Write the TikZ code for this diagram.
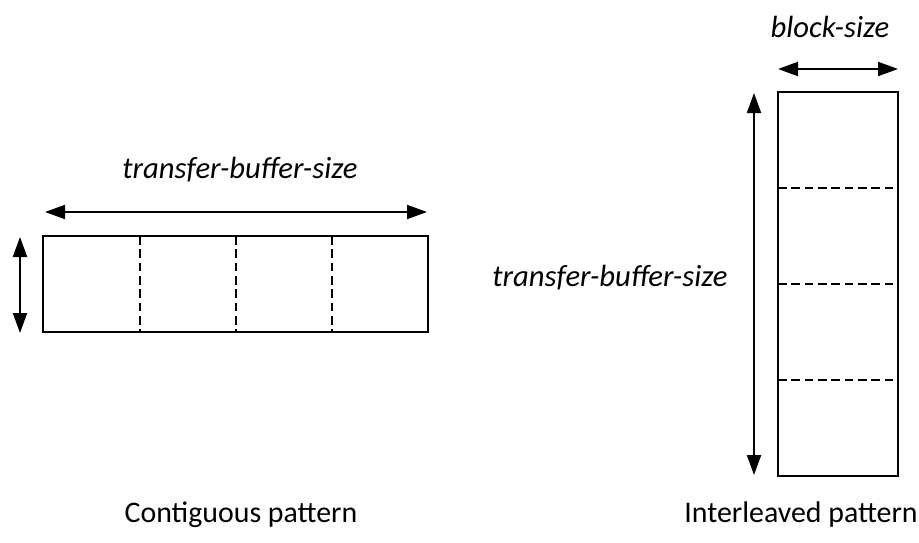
\documentclass[tikz,border=0pt]{standalone}
\usepackage{fontspec}
\setmainfont{Carlito}
\usetikzlibrary{arrows.meta,positioning}

\begin{document}
\begin{tikzpicture}[x=0.75pt,y=-0.75pt,
    dim/.style={{Triangle[length=15pt,width=10.5pt]}-{Triangle[length=15pt,width=10.5pt]}, line width=1.5pt},
    box/.style={line width=1.4pt},
    cell/.style={dash pattern=on 6.5pt off 3.5pt, line width=1.4pt},
    lbl/.style={font=\fontsize{23}{27}\selectfont\itshape},
    captext/.style={font=\fontsize{22.4}{26}\selectfont}]
    \useasboundingbox (0,0) rectangle (919,542);

    % Pola bersebelahan (contiguous)
    \draw[box] (43,236) rectangle (428,332);
    \foreach \x in {140,236,332}
        \draw[cell] (\x,236) -- (\x,332);
    \coordinate (cwl) at (45,212);
    \coordinate (cwr) at (427,212);
    \coordinate (cht) at (20,237);
    \coordinate (chb) at (20,333);
    \draw[dim] (cwl) -- (cwr);
    \draw[dim] (cht) -- (chb);
    \node[lbl] (ctsize) at (240,170) {transfer-buffer-size};

    % Pola berselang (interleaved)
    \draw[box] (778,92) rectangle (898,476);
    \foreach \y in {188,284,380}
        \draw[cell] (778,\y) -- (898,\y);
    \coordinate (iwl) at (778,69);
    \coordinate (iwr) at (898,69);
    \coordinate (iht) at (754,93);
    \coordinate (ihb) at (754,475);
    \draw[dim] (iwl) -- (iwr);
    \draw[dim] (iht) -- (ihb);
    \node[lbl] (blksize) at (830,27) {block-size};
    \node[lbl] (itsize) at (610,278) {transfer-buffer-size};

    % Keterangan
    \node[captext] (contig) at (241,515) {Contiguous pattern};
    \node[captext] (inter) at (801,515) {Interleaved pattern};
\end{tikzpicture}
\end{document}
